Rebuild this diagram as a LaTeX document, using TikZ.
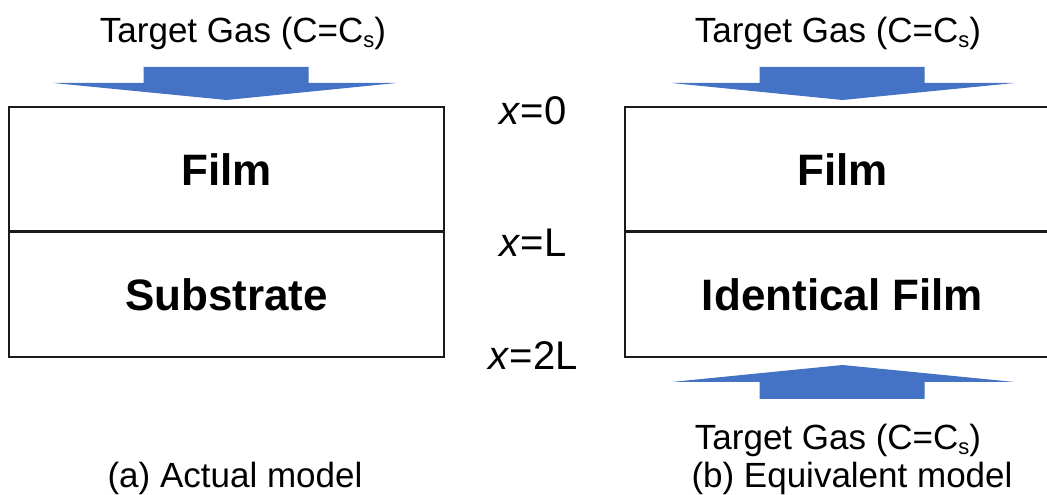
\documentclass[tikz,border=0pt]{standalone}
\usepackage{fontspec}
\setmainfont{Liberation Sans}
\usetikzlibrary{positioning}
\definecolor{flujo}{HTML}{4472C4}
\definecolor{borde}{HTML}{1A1A1A}
\newcommand{\subs}{\raisebox{-5pt}{\fontsize{22}{24}\selectfont s}}

\tikzset{
  capa/.style={draw=borde, line width=1.7pt, minimum width=435pt, minimum height=125pt,
               inner sep=0pt, outer sep=0pt, font=\fontsize{44}{50}\selectfont\bfseries},
  gas/.style={font=\fontsize{35}{40}\selectfont, anchor=base},
  posicion/.style={font=\fontsize{40}{46}\selectfont, anchor=base},
  flecha/.style={fill=flujo, draw=none},
  interfaz/.style={draw=borde, line width=3pt}
}

\begin{document}
\begin{tikzpicture}[x=1pt, y=1pt]
  \useasboundingbox (0,0) rectangle (1047,495);
  \clip (0,0) rectangle (1047,495);
  % (a) modelo real
  \node[capa] (peliA) at (226.5,325.5) {Film};
  \node[capa, below=0pt of peliA] (sustrato) {Substrate};
  \draw[interfaz] (peliA.south west) -- (peliA.south east);
  \node[gas] (gasA) at (243,452) {Target Gas (C=C\subs)};
  \fill[flecha] ([yshift=7pt]peliA.north) -- ++(-173,17) -- ++(90,0) -- ++(0,16)
    -- ++(165,0) -- ++(0,-16) -- ++(88,0) -- cycle;
  \node[gas] (titA) at (235,7) {(a) Actual model};
  % (b) modelo equivalente
  \node[capa] (peliB) at (842.5,325.5) {Film};
  \node[capa, below=0pt of peliB] (identica) {Identical Film};
  \draw[interfaz] (peliB.south west) -- (peliB.south east);
  \node[gas] (gasB) at (838,452) {Target Gas (C=C\subs)};
  \fill[flecha] ([yshift=7pt]peliB.north) -- ++(-171,17) -- ++(88,0) -- ++(0,16)
    -- ++(165,0) -- ++(0,-16) -- ++(90,0) -- cycle;
  \fill[flecha] ([yshift=-8pt]identica.south) -- ++(-171,-17) -- ++(88,0) -- ++(0,-17)
    -- ++(165,0) -- ++(0,17) -- ++(90,0) -- cycle;
  \node[gas] (gasC) at (838,45) {Target Gas (C=C\subs)};
  \node[gas] (titB) at (852,7) {(b) Equivalent model};
  % posiciones
  \node[posicion] (x0) at (533,370) {\textit{x}=0};
  \node[posicion] (xL) at (533,238) {\textit{x}=L};
  \node[posicion] (x2L) at (533,125) {\textit{x}=2L};
\end{tikzpicture}
\end{document}
